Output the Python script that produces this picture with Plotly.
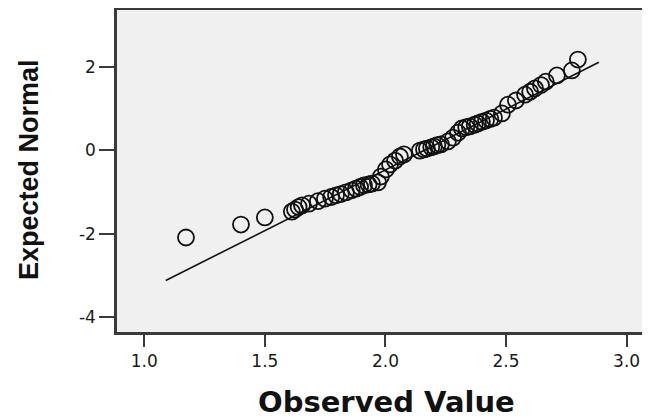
import plotly.graph_objects as go

observed = [1.173, 1.401, 1.500, 1.612, 1.625, 1.640, 1.654, 1.683, 1.720, 1.749,
            1.775, 1.795, 1.815, 1.836, 1.860, 1.878, 1.895, 1.911, 1.930, 1.944,
            1.969, 1.981, 2.002, 2.019, 2.040, 2.060, 2.077, 2.143, 2.160, 2.172,
            2.190, 2.201, 2.215, 2.230, 2.259, 2.280, 2.301, 2.317, 2.335, 2.350,
            2.370, 2.383, 2.400, 2.417, 2.435, 2.450, 2.483, 2.508, 2.541, 2.579,
            2.600, 2.620, 2.645, 2.665, 2.711, 2.773, 2.798]
expected = [-2.09, -1.78, -1.61, -1.47, -1.42, -1.36, -1.32, -1.28, -1.22, -1.16,
            -1.12, -1.08, -1.05, -1.01, -0.96, -0.92, -0.88, -0.84, -0.82, -0.80,
            -0.77, -0.63, -0.46, -0.34, -0.25, -0.15, -0.10, -0.01, 0.02, 0.04,
            0.07, 0.09, 0.12, 0.14, 0.21, 0.30, 0.42, 0.52, 0.55, 0.57,
            0.61, 0.64, 0.68, 0.71, 0.75, 0.78, 0.88, 1.09, 1.19, 1.33,
            1.40, 1.48, 1.56, 1.64, 1.79, 1.91, 2.17]

# Reference line end points
line_x = [1.089, 2.885]
line_y = [-3.12, 2.105]

x_ticks = [1.0, 1.5, 2.0, 2.5, 3.0]
x_tick_labels = ["1.0", "1.5", "2.0", "2.5", "3.0"]
y_ticks = [-4, -2, 0, 2]
y_tick_labels = ["-4", "-2", "0", "2"]

fig = go.Figure()
fig.add_trace(go.Scatter(x=line_x, y=line_y, mode="lines",
                         line=dict(color="#111111", width=1.6),
                         hoverinfo="skip", showlegend=False))
fig.add_trace(go.Scatter(x=observed, y=expected, mode="markers",
                         marker=dict(symbol="circle-open", size=16,
                                     color="#111111", line=dict(width=1.8)),
                         showlegend=False))

# The page body adds an 8px offset; the figure is sized to compensate.
fig.update_layout(
    width=642, height=410,
    margin=dict(l=109, r=0, t=2, b=86),
    paper_bgcolor="white",
    plot_bgcolor="#f0f0f0",
    font=dict(family="DejaVu Sans", color="#222222"),
    xaxis=dict(range=[0.887, 3.097], tickvals=x_ticks, ticktext=x_tick_labels,
               showgrid=False, zeroline=False, showline=True, mirror=True,
               linecolor="#3a3a3a", linewidth=2.5,
               ticks="outside", ticklen=12, tickwidth=2, tickcolor="#3a3a3a",
               tickfont=dict(family="DejaVu Sans", size=17, color="#1a1a1a")),
    yaxis=dict(range=[-4.352, 3.357], tickvals=y_ticks, ticktext=y_tick_labels,
               showgrid=False, zeroline=False, showline=True, mirror=False,
               linecolor="#3a3a3a", linewidth=2.5,
               ticks="outside", ticklen=15, tickwidth=2, tickcolor="#3a3a3a",
               tickfont=dict(family="DejaVu Sans", size=17, color="#1a1a1a")),
    annotations=[
        dict(text="Observed Value", xref="paper", yref="paper",
             x=(386 - 117) / 533, y=(332 - 402) / 322, xanchor="center", yanchor="middle",
             showarrow=False,
             font=dict(family="DejaVu Sans", size=29, color="#111111", weight="bold")),
        dict(text="Expected Normal", xref="paper", yref="paper",
             x=(29 - 117) / 533, y=(332 - 170) / 322, xanchor="center", yanchor="middle",
             textangle=-90, showarrow=False,
             font=dict(family="Liberation Sans", size=27, color="#111111", weight="bold")),
    ],
)

fig.write_html("out.html")
